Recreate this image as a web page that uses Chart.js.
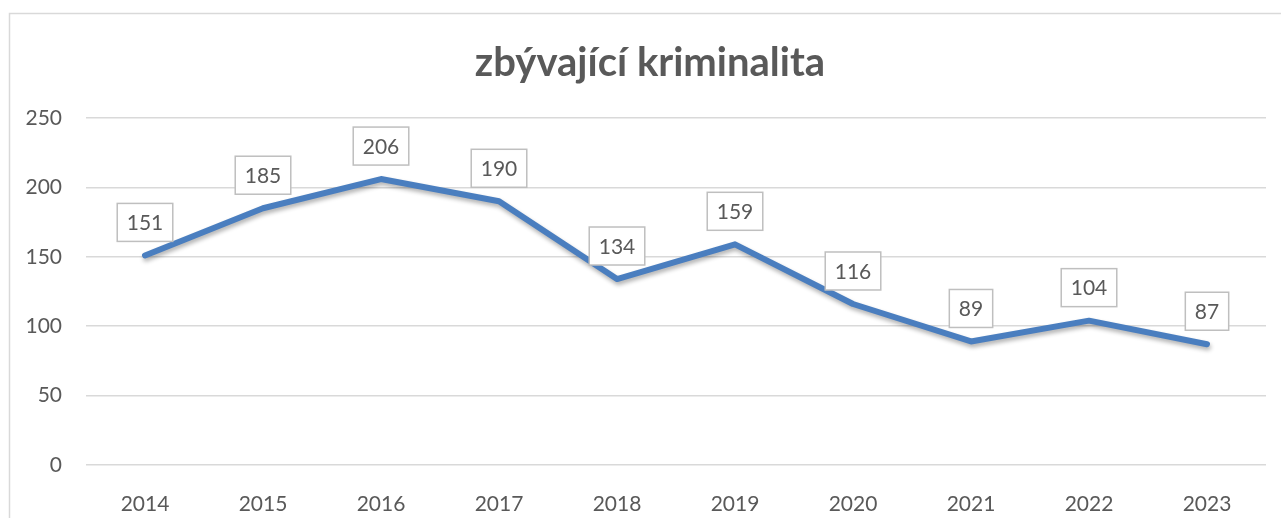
<!DOCTYPE html>
<html>
<head>
<meta charset="utf-8">
<script src="https://cdn.jsdelivr.net/npm/chart.js@4"></script>
<style>
  html, body { margin: 0; padding: 0; background: #fff; }
  #wrap { width: 1281px; height: 518px; }
</style>
</head>
<body>
<div id="wrap"><canvas id="chart" width="1281" height="518"></canvas></div>
<script>
const years = ["2014", "2015", "2016", "2017", "2018", "2019", "2020", "2021", "2022", "2023"];
const crimeCounts = [151, 185, 206, 190, 134, 159, 116, 89, 104, 87];
const chartTitle = "zbývající kriminalita";

const textGray = "#595959";
const fontFamily = "Lato, 'Open Sans', sans-serif";

// frame, white background and title
const framePlugin = {
  id: "frame",
  beforeDraw(chart) {
    const ctx = chart.ctx;
    ctx.save();
    ctx.fillStyle = "#fff";
    ctx.fillRect(0, 0, chart.width, chart.height);
    ctx.strokeStyle = "#d9d9d9";
    ctx.lineWidth = 1.5;
    ctx.strokeRect(9.5, 13.5, chart.width + 20, chart.height + 20);
    ctx.font = "bold 40px " + fontFamily;
    ctx.fillStyle = textGray;
    ctx.textAlign = "center";
    ctx.textBaseline = "alphabetic";
    ctx.fillText(chartTitle, 650, 76);
    ctx.restore();
  }
};

// soft shadow under the line
const shadowPlugin = {
  id: "lineShadow",
  beforeDatasetDraw(chart) {
    const ctx = chart.ctx;
    ctx.save();
    ctx.shadowColor = "rgba(0,0,0,0.3)";
    ctx.shadowBlur = 4;
    ctx.shadowOffsetX = 1;
    ctx.shadowOffsetY = 3;
  },
  afterDatasetDraw(chart) {
    chart.ctx.restore();
  }
};

// boxed value labels above points
const boxLabels = {
  id: "boxLabels",
  afterDatasetsDraw(chart) {
    const ctx = chart.ctx;
    const meta = chart.getDatasetMeta(0);
    ctx.save();
    ctx.font = "21px " + fontFamily;
    ctx.textAlign = "center";
    ctx.textBaseline = "middle";
    meta.data.forEach((pt, i) => {
      const txt = String(chart.data.datasets[0].data[i]);
      const w = ctx.measureText(txt).width + 19;
      const h = 38;
      const cx = pt.x;
      const cy = pt.y - 33;
      ctx.fillStyle = "#fff";
      ctx.fillRect(cx - w / 2, cy - h / 2, w, h);
      ctx.strokeStyle = "#bfbfbf";
      ctx.lineWidth = 1.5;
      ctx.strokeRect(cx - w / 2, cy - h / 2, w, h);
      ctx.fillStyle = textGray;
      ctx.fillText(txt, cx, cy + 1);
    });
    ctx.restore();
  }
};

new Chart(document.getElementById("chart"), {
  type: "line",
  data: {
    labels: years,
    datasets: [{
      data: crimeCounts,
      borderColor: "#4a7ebf",
      borderWidth: 6,
      borderCapStyle: "round",
      borderJoinStyle: "round",
      pointRadius: 0,
      tension: 0,
      fill: false
    }]
  },
  options: {
    responsive: false,
    animation: false,
    devicePixelRatio: 1,
    layout: { padding: { left: 0, right: 15, top: 118, bottom: 0 } },
    plugins: {
      legend: { display: false },
      tooltip: { enabled: false },
      title: { display: false }
    },
    scales: {
      x: {
        offset: true,
        grid: { display: false },
        border: { display: false },
        ticks: { color: textGray, font: { family: fontFamily, size: 21 }, padding: 19 },
        afterFit(scale) { scale.height = 53; }
      },
      y: {
        min: 0,
        max: 250,
        ticks: { stepSize: 50, color: textGray, font: { family: fontFamily, size: 21 }, padding: 24 },
        grid: { color: "#d9d9d9", lineWidth: 1.5, drawTicks: false },
        border: { display: false },
        afterFit(scale) { scale.width = 86; }
      }
    }
  },
  plugins: [framePlugin, shadowPlugin, boxLabels]
});
</script>
</body>
</html>
